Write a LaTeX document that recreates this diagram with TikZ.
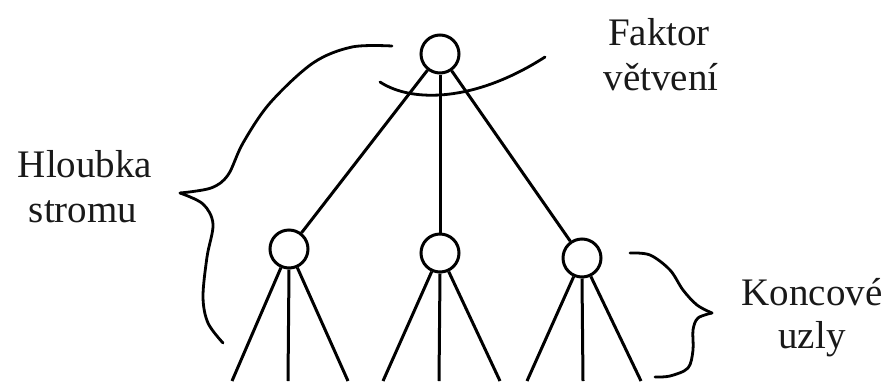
\documentclass[tikz,border=0pt]{standalone}
\usepackage{fontspec}
\setmainfont{Liberation Serif}
\begin{document}
\begin{tikzpicture}[x=1pt,y=-1pt,
  treenode/.style={circle,draw,line width=3pt,minimum size=38pt,inner sep=0pt},
  edge/.style={line width=3pt},
  curvy/.style={line width=2.8pt,line cap=round,line join=round},
  lbl/.style={anchor=base,inner sep=0pt,font=\fontsize{39}{45}\selectfont,text=black!90}]
\useasboundingbox (0,0) rectangle (891,381);
% nodes
\node[treenode] (root) at (440,54) {};
\node[treenode] (c1) at (289,249) {};
\node[treenode] (c2) at (440,253) {};
\node[treenode] (c3) at (582,258) {};
% leaf ends
\coordinate (b11) at (232,381);
\coordinate (b12) at (288,381);
\coordinate (b13) at (348,381);
\coordinate (b21) at (383,381);
\coordinate (b22) at (439,381);
\coordinate (b23) at (500,381);
\coordinate (b31) at (527,381);
\coordinate (b32) at (583,381);
\coordinate (b33) at (641,381);
% edges
\draw[edge] (root) -- (c1);
\draw[edge] (root) -- (c2);
\draw[edge] (root) -- (c3);
\draw[edge] (c1) -- (b11);
\draw[edge] (c1.south) -- (b12);
\draw[edge] (c1) -- (b13);
\draw[edge] (c2) -- (b21);
\draw[edge] (c2.south) -- (b22);
\draw[edge] (c2) -- (b23);
\draw[edge] (c3) -- (b31);
\draw[edge] (c3.south) -- (b32);
\draw[edge] (c3) -- (b33);
% branching-factor arc
\draw[curvy] (380,82) .. controls (412,103) and (475,102) .. (545,57);
% left brace
\draw[curvy] plot[smooth,tension=0.55] coordinates {(392,46) (352,47) (313,63) (270,103) (243,143) (228,175) (211,188) (180,193)};
\draw[curvy] plot[smooth,tension=0.55] coordinates {(180,193) (203,204) (213,224) (207,257) (203,297) (208,323) (223,343)};
% right brace
\draw[curvy] plot[smooth,tension=0.55] coordinates {(630,253) (650,255) (670,270) (683,290) (697,305) (712,313)};
\draw[curvy] plot[smooth,tension=0.55] coordinates {(712,313) (698,318) (693,330) (693,350) (688,368) (670,376) (655,377)};
% labels
\node[lbl] (f1) at (659,45) {Faktor};
\node[lbl] (f2) at (661,90) {větvení};
\node[lbl] (h1) at (85,177) {Hloubka};
\node[lbl] (h2) at (83,222) {stromu};
\node[lbl] (k1) at (812,305) {Koncové};
\node[lbl] (k2) at (812,348) {uzly};
\end{tikzpicture}
\end{document}
